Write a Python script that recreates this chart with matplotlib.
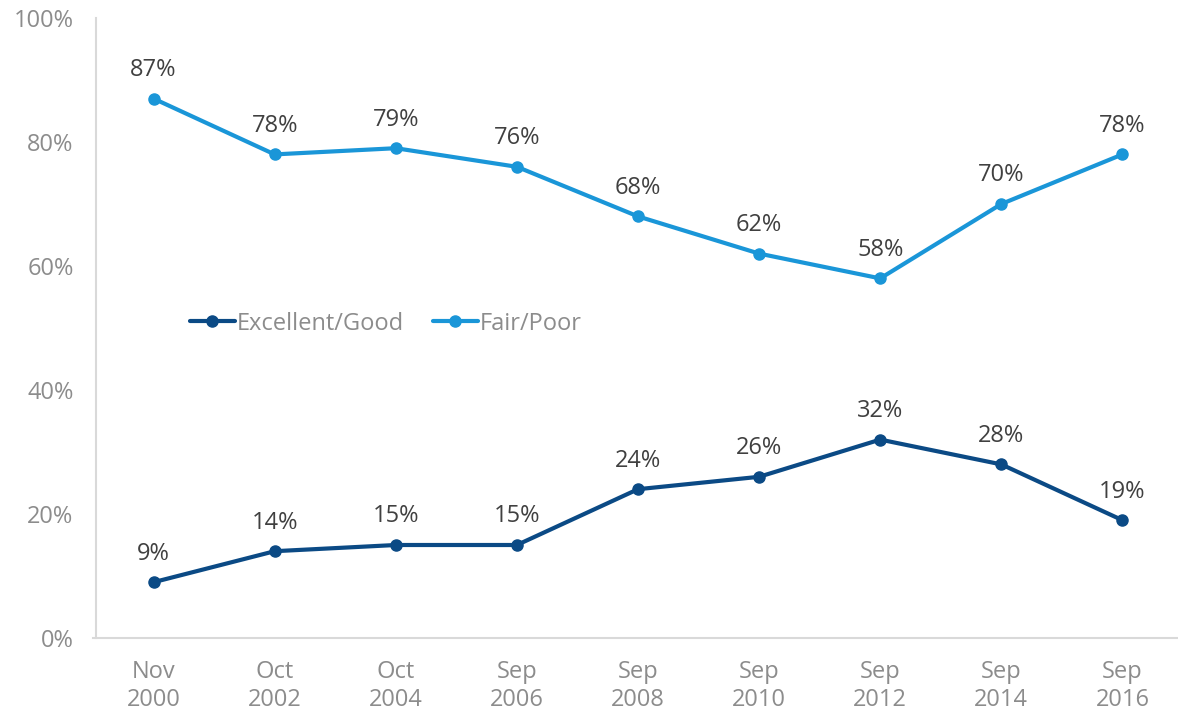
import matplotlib
matplotlib.use("Agg")
import matplotlib.pyplot as plt

categories = ["Nov\n2000", "Oct\n2002", "Oct\n2004", "Sep\n2006", "Sep\n2008",
              "Sep\n2010", "Sep\n2012", "Sep\n2014", "Sep\n2016"]
excellent_good = [9, 14, 15, 15, 24, 26, 32, 28, 19]
fair_poor = [87, 78, 79, 76, 68, 62, 58, 70, 78]
y_ticks = [0, 20, 40, 60, 80, 100]
y_tick_labels = ["0%", "20%", "40%", "60%", "80%", "100%"]

plt.rcParams['font.family'] = ['Open Sans', 'DejaVu Sans']

fig = plt.figure(figsize=(11.78, 7.13), dpi=100)
W, H = 1178, 713
ax = fig.add_axes([93 / W, (H - 638) / H, (1183 - 93) / W, (638 - 18) / H])

c_eg = "#0b4a85"
c_fp = "#1a96d8"
x = list(range(len(categories)))
ax.plot(x, excellent_good, color=c_eg, lw=3, marker="o", ms=8, label="Excellent/Good",
        solid_capstyle="round")
ax.plot(x, fair_poor, color=c_fp, lw=3, marker="o", ms=8, label="Fair/Poor",
        solid_capstyle="round")

for xi, v in zip(x, excellent_good):
    ax.annotate(f"{v}%", (xi, v), xytext=(0, 12), textcoords="offset points",
                ha="center", va="bottom", fontsize=17, color="#404040")
for xi, v in zip(x, fair_poor):
    ax.annotate(f"{v}%", (xi, v), xytext=(0, 12), textcoords="offset points",
                ha="center", va="bottom", fontsize=17, color="#404040")

ax.set_xlim(-0.5, len(categories) - 0.5)
ax.set_ylim(0, 100)
ax.set_yticks(y_ticks)
ax.set_yticklabels(y_tick_labels)
ax.set_xticks(x)
ax.set_xticklabels(categories)
ax.tick_params(axis="both", length=0, labelsize=17, labelcolor="#8c8c8c")
ax.tick_params(axis="x", pad=16)
ax.tick_params(axis="y", pad=16)
for lbl in ax.get_xticklabels():
    lbl.set_linespacing(1.2)
for s in ["top", "right"]:
    ax.spines[s].set_visible(False)
for s in ["left", "bottom"]:
    ax.spines[s].set_color("#d9d9d9")
    ax.spines[s].set_linewidth(1.5)
ax.spines["left"].set_position(("outward", -2))

leg = ax.legend(loc="center left", bbox_to_anchor=(0.089, 0.507), ncol=2, frameon=False,
                fontsize=17, labelcolor="#8c8c8c", handlelength=1.9, handletextpad=0.1,
                columnspacing=1.2, borderpad=0, borderaxespad=0)

fig.savefig("out.png", dpi=100)
